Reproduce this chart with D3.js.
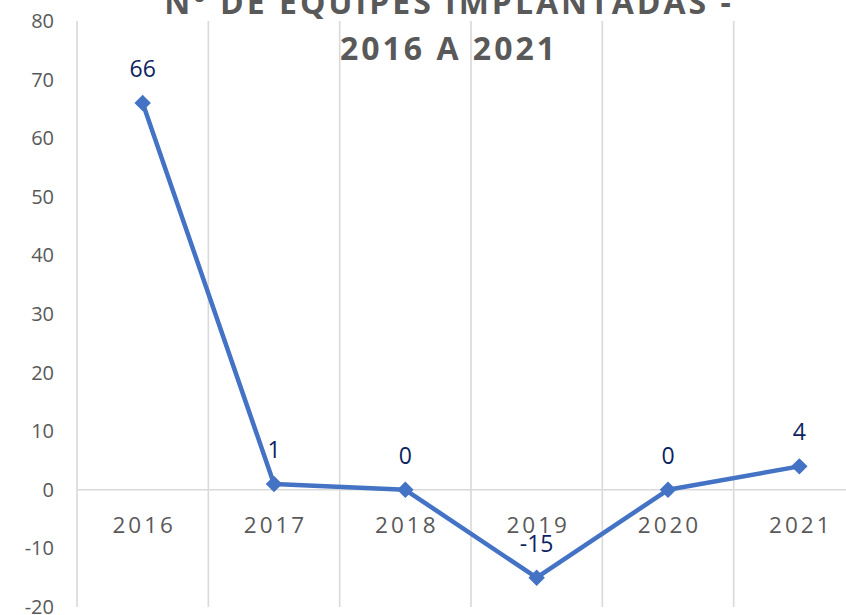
<!DOCTYPE html>
<html>
<head>
<meta charset="utf-8">
<script src="https://cdn.jsdelivr.net/npm/d3@7"></script>
<style>
  body { margin: 0; background: #fff; }
  svg { display: block; font-family: "Open Sans", sans-serif; }
  .grid line { stroke: #d9d9d9; stroke-width: 1.6; }
  .ytick { fill: #595959; font-size: 20px; }
  .xtick { fill: #595959; font-size: 22.5px; letter-spacing: 3px; }
  .label { fill: #0b2461; font-size: 23px; }
  .title { fill: #595959; font-size: 32px; font-weight: bold; letter-spacing: 3px; }
</style>
</head>
<body>
<div id="chart"></div>
<script>
var years = ['2016', '2017', '2018', '2019', '2020', '2021'];
var equipes = [66, 1, 0, -15, 0, 4];
var yTicks = [-20, -10, 0, 10, 20, 30, 40, 50, 60, 70, 80];
var titleLines = ['Nº DE EQUIPES IMPLANTADAS -', '2016 A 2021'];

var width = 846, height = 615;

var svg = d3.select('#chart').append('svg')
    .attr('width', width)
    .attr('height', height);

// plot area runs past the right edge of the picture, like the original
var x = d3.scaleBand()
    .domain(years)
    .range([77, 865]);

var y = d3.scaleLinear()
    .domain([-20, 80])
    .range([607, 21]);

var grid = svg.append('g').attr('class', 'grid');

// vertical lines between categories
grid.selectAll('line.v')
  .data(years)
  .enter().append('line')
    .attr('class', 'v')
    .attr('x1', function(d) { return x(d); })
    .attr('x2', function(d) { return x(d); })
    .attr('y1', y(80))
    .attr('y2', y(-20));

// horizontal axis crosses at zero
grid.append('line')
    .attr('x1', x.range()[0])
    .attr('x2', x.range()[1])
    .attr('y1', y(0))
    .attr('y2', y(0));

svg.append('g').selectAll('text')
  .data(yTicks)
  .enter().append('text')
    .attr('class', 'ytick')
    .attr('x', 54)
    .attr('y', function(d) { return y(d); })
    .attr('dy', '0.35em')
    .attr('text-anchor', 'end')
    .text(function(d) { return d; });

svg.append('g').selectAll('text')
  .data(years)
  .enter().append('text')
    .attr('class', 'xtick')
    .attr('x', function(d) { return x(d) + x.bandwidth() / 2 + 1.5; })
    .attr('y', y(0) + 35)
    .attr('dy', '0.35em')
    .attr('text-anchor', 'middle')
    .text(function(d) { return d; });

var pts = years.map(function(d, i) { return {year: d, value: equipes[i]}; });

var line = d3.line()
    .x(function(d) { return x(d.year) + x.bandwidth() / 2; })
    .y(function(d) { return y(d.value); });

svg.append('path')
    .datum(pts)
    .attr('d', line)
    .attr('fill', 'none')
    .attr('stroke', '#4472c4')
    .attr('stroke-width', 4.5)
    .attr('stroke-linejoin', 'round');

svg.append('g').selectAll('path')
  .data(pts)
  .enter().append('path')
    .attr('d', d3.symbol().type(d3.symbolSquare).size(135))
    .attr('fill', '#4472c4')
    .attr('transform', function(d) {
      return 'translate(' + (x(d.year) + x.bandwidth() / 2) + ',' + y(d.value) + ') rotate(45)';
    });

svg.append('g').selectAll('text')
  .data(pts)
  .enter().append('text')
    .attr('class', 'label')
    .attr('x', function(d) { return x(d.year) + x.bandwidth() / 2; })
    .attr('y', function(d) { return y(d.value) - 34; })
    .attr('dy', '0.35em')
    .attr('text-anchor', 'middle')
    .text(function(d) { return d.value; });

svg.append('g').selectAll('text')
  .data(titleLines)
  .enter().append('text')
    .attr('class', 'title')
    .attr('x', 449)
    .attr('y', function(d, i) { return 14 + i * 46; })
    .attr('text-anchor', 'middle')
    .text(function(d) { return d; });
</script>
</body>
</html>
